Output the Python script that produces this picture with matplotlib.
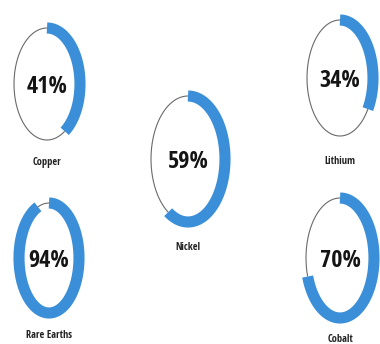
import numpy as np
import matplotlib.pyplot as plt
from matplotlib import font_manager as fm

# Share of each mineral, in percent
minerals = ['Copper', 'Lithium', 'Nickel', 'Rare Earths', 'Cobalt']
shares = [41, 34, 59, 94, 70]

# Ring placement in pixel space: centre x, centre y, radius x, radius y
centres_x = [47, 340, 188, 49, 340]
centres_y = [84, 78, 159, 258, 258]
radii_x = [33, 33, 37, 30, 34]
radii_y = [56, 58, 63, 55, 60]
label_y = [163, 161, 247, 335, 340]

BLUE = '#3b8fd8'
GREY = '#6a6a6a'

# pick a narrow bold face if one is installed
installed = {f.name for f in fm.fontManager.ttflist}
font = 'DejaVu Sans'
for name in ['Open Sans Condensed', 'Roboto Condensed', 'Liberation Sans Narrow',
             'DejaVu Sans Condensed', 'Noto Sans Condensed']:
    if name in installed:
        font = name
        break
plt.rcParams['font.family'] = [font, 'DejaVu Sans']

fig = plt.figure(figsize=(3.8, 3.44), dpi=100)
ax = fig.add_axes([0, 0, 1, 1])
ax.set_xlim(0, 380)
ax.set_ylim(344, 0)
ax.axis('off')


def ring(cx, cy, rx, ry, start, stop, **kw):
    # angle measured clockwise from 12 o'clock
    t = np.linspace(start, stop, 300) * 2 * np.pi
    ax.plot(cx + rx * np.sin(t), cy - ry * np.cos(t), solid_capstyle='butt', **kw)


for name, pct, cx, cy, rx, ry, ly in zip(minerals, shares, centres_x, centres_y,
                                         radii_x, radii_y, label_y):
    frac = pct / 100
    ring(cx, cy, rx, ry, frac, 1, color=GREY, lw=0.8)
    ring(cx, cy, rx, ry, 0, frac, color=BLUE, lw=8)
    ax.text(cx, cy + 3, f'{pct}%', ha='center', va='center',
            fontsize=17.5, fontweight='bold', color='#141414')
    ax.text(cx, ly, name, ha='center', va='center',
            fontsize=7.5, fontweight='bold', color='#222222')

fig.savefig('out.png', dpi=100, facecolor='white')
